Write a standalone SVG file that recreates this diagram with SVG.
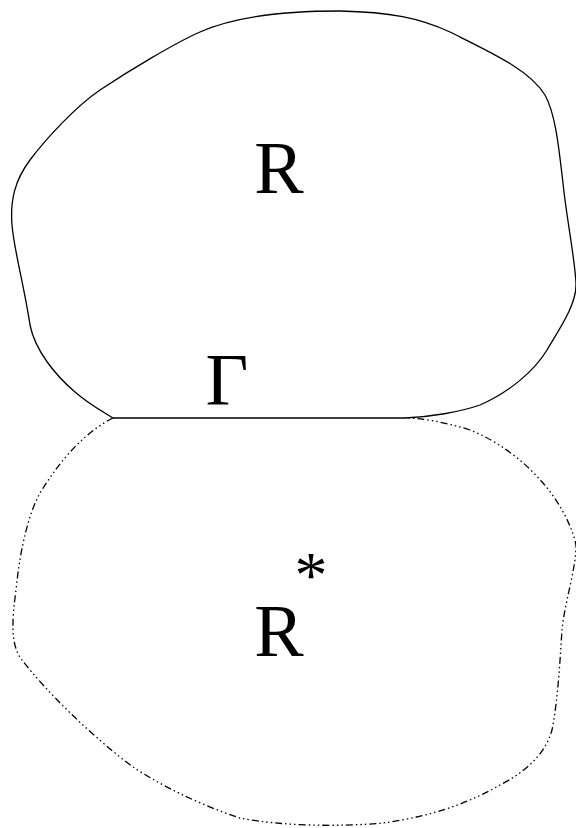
<svg xmlns="http://www.w3.org/2000/svg" width="576" height="828" viewBox="0 0 576 828">
<style>
.solid{fill:none;stroke:#000;stroke-width:1.3}
.dash{fill:none;stroke:#000;stroke-width:1.3;stroke-dasharray:7 3 1.5 3 1.5 3 1.5 3}
.t{fill:#000;font-family:"Liberation Serif","Times New Roman","DejaVu Serif",serif;font-size:74px}
</style>
<rect width="576" height="828" fill="#fff"/>
<g id="R">
<path class="solid" d="M113,418 L405,418 C430,417 460,412 480,405 C510,392 535,370 547,350 C560,328 576,305 576,285 C576,265 566,215 563,183 C559,150 556,115 545,95 C530,70 490,52 450,32 C420,18 390,12 340,11 C300,11 240,14 200,32 C175,43 130,70 100,90 C75,107 45,140 30,160 C15,180 10,200 12,225 C14,250 24,285 30,325 C35,350 55,375 75,392 C90,405 105,413 113,418 Z"/>
<text class="t" x="279" y="193" text-anchor="middle">R</text>
</g>
<g id="Rstar">
<path class="dash" d="M113,418 C85,432 60,460 40,493 C28,515 20,550 16,590 C12,620 10,645 22,660 C45,690 90,735 133,767 C160,785 200,805 240,818 C280,826 340,827 383,823 C420,818 460,808 500,785 C525,772 545,755 552,730 C558,700 560,660 562,630 C565,600 576,570 576,545 C572,525 558,500 543,483 C525,462 500,442 470,430 C445,422 420,418 405,418"/>
<text class="t" x="279" y="656" text-anchor="middle">R</text>
<text class="t" x="311" y="597" text-anchor="middle" style="font-size:66px">*</text>
</g>
<g id="Gamma">
<text class="t" x="227" y="405" text-anchor="middle">Γ</text>
</g>
</svg>
